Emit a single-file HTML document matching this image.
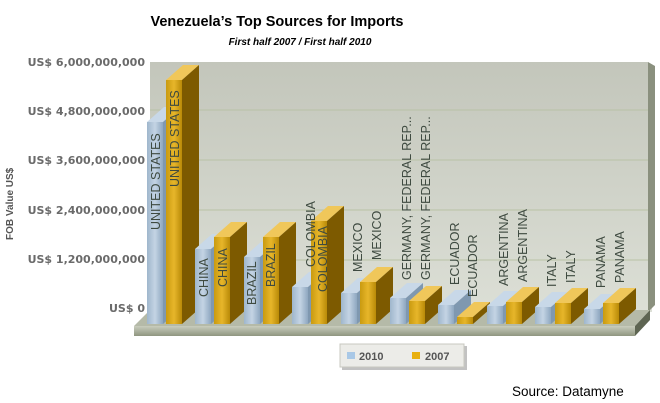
<!DOCTYPE html>
<html><head><meta charset="utf-8"><style>
body{margin:0;background:#fff;}
svg{display:block;}
text{font-family:"Liberation Sans",sans-serif;}
.yl{font-family:"DejaVu Sans",sans-serif;font-size:11px;font-weight:bold;fill:#6a6a6a;text-anchor:end;}
.bl{font-family:"Liberation Sans",sans-serif;font-size:12.5px;fill:#3e4a40;}
</style></head><body>
<svg width="660" height="403" viewBox="0 0 660 403" xmlns="http://www.w3.org/2000/svg">
<defs>
<linearGradient id="wall" x1="0" y1="0" x2="0" y2="1"><stop offset="0" stop-color="#c3c6bb"/><stop offset="1" stop-color="#dcdfd6"/></linearGradient>
<linearGradient id="bf" x1="0" y1="0" x2="1" y2="0"><stop offset="0" stop-color="#9fb6cc"/><stop offset="0.5" stop-color="#c4d4e4"/><stop offset="1" stop-color="#8ea7c0"/></linearGradient>
<linearGradient id="gf" x1="0" y1="0" x2="1" y2="0"><stop offset="0" stop-color="#c99a10"/><stop offset="0.5" stop-color="#e7b62a"/><stop offset="1" stop-color="#b98a08"/></linearGradient>
<linearGradient id="plat" x1="0" y1="0" x2="0" y2="1"><stop offset="0" stop-color="#c9cdbd"/><stop offset="1" stop-color="#8f9680"/></linearGradient>
</defs>
<text x="277" y="26" font-size="14.5" font-weight="bold" text-anchor="middle" fill="#000">Venezuela’s Top Sources for Imports</text>
<text x="300" y="45" font-size="10" font-weight="bold" font-style="italic" text-anchor="middle" fill="#000">First half 2007 / First half 2010</text>
<polygon points="150,62 648,62 652,66 652,312 150,312" fill="url(#wall)"/>
<polygon points="648,62 655,66 655,305 648,312" fill="#8a907e"/>
<g stroke="#b9c2a6" stroke-width="1">
<line x1="150" y1="110" x2="648" y2="110"/><line x1="150" y1="160" x2="648" y2="160"/>
<line x1="150" y1="210" x2="648" y2="210"/><line x1="150" y1="260" x2="648" y2="260"/>
</g>
<polygon points="150,310 650,310 635,326 134,326" fill="#b5baa8"/>
<polygon points="134,326 635,326 635,336 134,336" fill="url(#plat)"/>
<polygon points="635,326 650,310 650,320 635,336" fill="#5e6552"/>
<text class="yl" x="145" y="66">US$ 6,000,000,000</text>
<text class="yl" x="145" y="115">US$ 4,800,000,000</text>
<text class="yl" x="145" y="164">US$ 3,600,000,000</text>
<text class="yl" x="145" y="214">US$ 2,400,000,000</text>
<text class="yl" x="145" y="263">US$ 1,200,000,000</text>
<text class="yl" x="145" y="312">US$ 0</text>
<text transform="translate(13,240) rotate(-90)" font-family="DejaVu Sans, sans-serif" font-size="10" font-weight="bold" fill="#555">FOB Value US$</text>
<g>
<g><polygon points="147,122 163,122 180,107 164,107" fill="#c8d8e8"/><polygon points="163,122 180,107 180,309 163,324" fill="#7f98b0"/><rect x="147" y="122" width="16" height="202" fill="url(#bf)"/></g>
<g><polygon points="166,80 182,80 199,65 183,65" fill="#f0c75a"/><polygon points="182,80 199,65 199,309 182,324" fill="#7d5a00"/><rect x="166" y="80" width="16" height="244" fill="url(#gf)"/></g>
<g><polygon points="195,249 211,249 228,234 212,234" fill="#c8d8e8"/><polygon points="211,249 228,234 228,309 211,324" fill="#7f98b0"/><rect x="195" y="249" width="16" height="75" fill="url(#bf)"/></g>
<g><polygon points="214,237 230,237 247,222 231,222" fill="#f0c75a"/><polygon points="230,237 247,222 247,309 230,324" fill="#7d5a00"/><rect x="214" y="237" width="16" height="87" fill="url(#gf)"/></g>
<g><polygon points="244,257 260,257 277,242 261,242" fill="#c8d8e8"/><polygon points="260,257 277,242 277,309 260,324" fill="#7f98b0"/><rect x="244" y="257" width="16" height="67" fill="url(#bf)"/></g>
<g><polygon points="263,237 279,237 296,222 280,222" fill="#f0c75a"/><polygon points="279,237 296,222 296,309 279,324" fill="#7d5a00"/><rect x="263" y="237" width="16" height="87" fill="url(#gf)"/></g>
<g><polygon points="292,287 308,287 325,272 309,272" fill="#c8d8e8"/><polygon points="308,287 325,272 325,309 308,324" fill="#7f98b0"/><rect x="292" y="287" width="16" height="37" fill="url(#bf)"/></g>
<g><polygon points="311,221 327,221 344,206 328,206" fill="#f0c75a"/><polygon points="327,221 344,206 344,309 327,324" fill="#7d5a00"/><rect x="311" y="221" width="16" height="103" fill="url(#gf)"/></g>
<g><polygon points="341,293 357,293 374,278 358,278" fill="#c8d8e8"/><polygon points="357,293 374,278 374,309 357,324" fill="#7f98b0"/><rect x="341" y="293" width="16" height="31" fill="url(#bf)"/></g>
<g><polygon points="360,282 376,282 393,267 377,267" fill="#f0c75a"/><polygon points="376,282 393,267 393,309 376,324" fill="#7d5a00"/><rect x="360" y="282" width="16" height="42" fill="url(#gf)"/></g>
<g><polygon points="390,298 406,298 423,283 407,283" fill="#c8d8e8"/><polygon points="406,298 423,283 423,309 406,324" fill="#7f98b0"/><rect x="390" y="298" width="16" height="26" fill="url(#bf)"/></g>
<g><polygon points="409,301 425,301 442,286 426,286" fill="#f0c75a"/><polygon points="425,301 442,286 442,309 425,324" fill="#7d5a00"/><rect x="409" y="301" width="16" height="23" fill="url(#gf)"/></g>
<g><polygon points="438,305 454,305 471,290 455,290" fill="#c8d8e8"/><polygon points="454,305 471,290 471,309 454,324" fill="#7f98b0"/><rect x="438" y="305" width="16" height="19" fill="url(#bf)"/></g>
<g><polygon points="457,317 473,317 490,302 474,302" fill="#f0c75a"/><polygon points="473,317 490,302 490,309 473,324" fill="#7d5a00"/><rect x="457" y="317" width="16" height="7" fill="url(#gf)"/></g>
<g><polygon points="487,306 503,306 520,291 504,291" fill="#c8d8e8"/><polygon points="503,306 520,291 520,309 503,324" fill="#7f98b0"/><rect x="487" y="306" width="16" height="18" fill="url(#bf)"/></g>
<g><polygon points="506,302 522,302 539,287 523,287" fill="#f0c75a"/><polygon points="522,302 539,287 539,309 522,324" fill="#7d5a00"/><rect x="506" y="302" width="16" height="22" fill="url(#gf)"/></g>
<g><polygon points="535,307 551,307 568,292 552,292" fill="#c8d8e8"/><polygon points="551,307 568,292 568,309 551,324" fill="#7f98b0"/><rect x="535" y="307" width="16" height="17" fill="url(#bf)"/></g>
<g><polygon points="555,303 571,303 588,288 572,288" fill="#f0c75a"/><polygon points="571,303 588,288 588,309 571,324" fill="#7d5a00"/><rect x="555" y="303" width="16" height="21" fill="url(#gf)"/></g>
<g><polygon points="584,309 600,309 617,294 601,294" fill="#c8d8e8"/><polygon points="600,309 617,294 617,309 600,324" fill="#7f98b0"/><rect x="584" y="309" width="16" height="15" fill="url(#bf)"/></g>
<g><polygon points="603,303 619,303 636,288 620,288" fill="#f0c75a"/><polygon points="619,303 636,288 636,309 619,324" fill="#7d5a00"/><rect x="603" y="303" width="16" height="21" fill="url(#gf)"/></g>
</g>
<g class="bl">
<text transform="translate(160,230) rotate(-90)">UNITED STATES</text>
<text transform="translate(179,187) rotate(-90)">UNITED STATES</text>
<text transform="translate(208,297) rotate(-90)">CHINA</text>
<text transform="translate(227,287) rotate(-90)">CHINA</text>
<text transform="translate(256,305) rotate(-90)">BRAZIL</text>
<text transform="translate(275,287) rotate(-90)">BRAZIL</text>
<text transform="translate(315,267) rotate(-90)">COLOMBIA</text>
<text transform="translate(327,292) rotate(-90)">COLOMBIA</text>
<text transform="translate(362,272) rotate(-90)">MEXICO</text>
<text transform="translate(381,260) rotate(-90)">MEXICO</text>
<text transform="translate(411,280) rotate(-90)">GERMANY, FEDERAL REP...</text>
<text transform="translate(430,280) rotate(-90)">GERMANY, FEDERAL REP...</text>
<text transform="translate(459,285) rotate(-90)">ECUADOR</text>
<text transform="translate(477,297) rotate(-90)">ECUADOR</text>
<text transform="translate(508,286) rotate(-90)">ARGENTINA</text>
<text transform="translate(527,282) rotate(-90)">ARGENTINA</text>
<text transform="translate(556,287) rotate(-90)">ITALY</text>
<text transform="translate(575,283) rotate(-90)">ITALY</text>
<text transform="translate(605,288) rotate(-90)">PANAMA</text>
<text transform="translate(624,283) rotate(-90)">PANAMA</text>
</g>
<rect x="342" y="346" width="125" height="24" fill="#9a9a9a" opacity="0.6"/>
<rect x="340" y="344" width="124" height="23" fill="#ecece8" stroke="#c8c8c0"/>
<rect x="347" y="352" width="8" height="7" fill="#a9c8e6"/>
<text x="359" y="360" font-family="DejaVu Sans, sans-serif" font-size="11" font-weight="bold" fill="#555">2010</text>
<rect x="412" y="352" width="8" height="7" fill="#e8b010"/>
<text x="425" y="360" font-family="DejaVu Sans, sans-serif" font-size="11" font-weight="bold" fill="#555">2007</text>
<text x="512" y="396" font-size="13.5" fill="#000">Source: Datamyne</text>
</svg>
</body></html>
